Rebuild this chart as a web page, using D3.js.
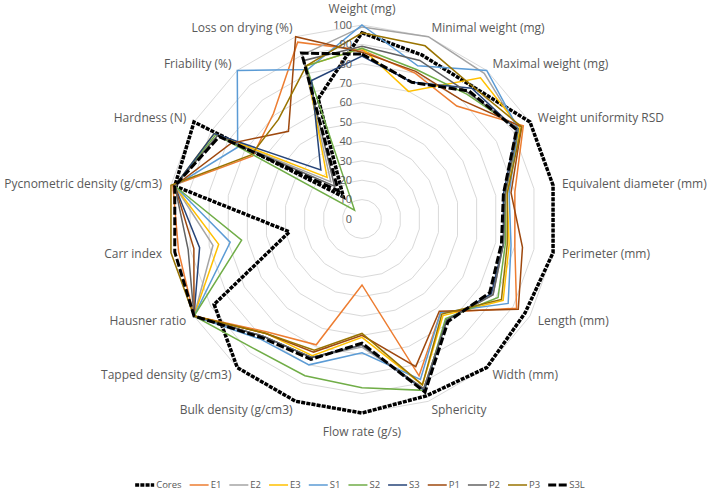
<!DOCTYPE html>
<html>
<head>
<meta charset="utf-8">
<script src="https://cdn.jsdelivr.net/npm/d3@7"></script>
<style>
  body { margin: 0; background: #fff; }
  text { font-family: "Open Sans", "Noto Sans", sans-serif; fill: #595959; }
</style>
</head>
<body>
<svg id="chart" width="708" height="492"></svg>
<script>
// axes, clockwise from the top
const axes = ["Weight (mg)", "Minimal weight (mg)", "Maximal weight (mg)", "Weight uniformity RSD",
  "Equivalent diameter (mm)", "Perimeter (mm)", "Length (mm)", "Width (mm)", "Sphericity",
  "Flow rate (g/s)", "Bulk density (g/cm3)", "Tapped density (g/cm3)", "Hausner ratio",
  "Carr index", "Pycnometric density (g/cm3)", "Hardness (N)", "Friability (%)", "Loss on drying (%)"];

const ticks = [0, 10, 20, 30, 40, 50, 60, 70, 80, 90, 100];

const seriesNames = ["Cores", "E1", "E2", "E3", "S1", "S2", "S3", "P1", "P2", "P3", "S3L"];
const seriesColors = ["#000000", "#ED7D31", "#A5A5A5", "#FFC000", "#5B9BD5", "#70AD47",
  "#264478", "#9E480E", "#636363", "#997300", "#000000"];

const cores = [96, 90, 89, 100, 100, 100, 97, 100, 97, 100, 100, 100, 88, 38, 98, 100, 15, 66];
const e1    = [87, 80, 76, 96, 80, 80, 92, 63, 86, 34, 69, 76, 100, 96, 99, 65, 71, 97];
const e2    = [99, 100, 98, 93, 75, 74, 78, 68, 93, 66, 76, 79, 100, 78, 98, 86, 25, 90];
const e3    = [88, 70, 95, 94, 76, 77, 84, 65, 91, 61, 75, 77, 100, 75, 98, 88, 28, 84];
const s1    = [100, 84, 100, 93, 77, 78, 87, 63, 88, 69, 80, 81, 100, 69, 98, 74, 100, 82];
const s2    = [88, 82, 84, 93, 75, 75, 81, 67, 94, 87, 86, 87, 100, 63, 98, 87, 6, 84];
const s3    = [84, 75, 88, 92, 74, 74, 77, 68, 94, 65, 76, 79, 100, 85, 98, 88, 33, 76];
const p1    = [86, 81, 80, 95, 78, 84, 93, 62, 81, 60, 73, 77, 100, 88, 98, 78, 59, 100];
const p2    = [89, 87, 85, 93, 75, 74, 78, 68, 93, 65, 76, 79, 100, 91, 98, 86, 22, 87];
const p3    = [96, 95, 89, 95, 76, 76, 83, 64, 91, 59, 72, 77, 100, 100, 100, 66, 67, 84];
const s3l   = [85, 75, 86, 92, 74, 73, 76, 69, 95, 64, 77, 80, 100, 98, 98, 85, 19, 91];

const seriesValues = [cores, e1, e2, e3, s1, s2, s3, p1, p2, p3, s3l];

const cx = 362, cy = 219, R = 194;
const svg = d3.select("#chart");

const angle = d3.scaleLinear().domain([0, axes.length]).range([0, 2 * Math.PI]);
const r = d3.scaleLinear().domain([0, 100]).range([0, R]);

const g = svg.append("g").attr("transform", "translate(" + cx + "," + cy + ")");

const radar = d3.lineRadial()
  .angle((d, i) => angle(i))
  .radius(d => r(d))
  .curve(d3.curveLinearClosed);

// grid rings
g.selectAll(".ring")
  .data(ticks.slice(1))
  .enter()
  .append("path")
  .attr("class", "ring")
  .attr("d", t => radar(axes.map(() => t)))
  .attr("fill", "none")
  .attr("stroke", "#D9D9D9")
  .attr("stroke-width", 1);

// series
seriesValues.forEach((vals, k) => {
  const name = seriesNames[k];
  const path = g.append("path")
    .attr("d", radar(vals))
    .attr("fill", "none")
    .attr("stroke", seriesColors[k])
    .attr("stroke-linejoin", "miter");
  if (name === "Cores") {
    path.attr("stroke-width", 3.5).attr("stroke-dasharray", "4,1.2");
  } else if (name === "S3L") {
    path.attr("stroke-width", 3).attr("stroke-dasharray", "8,2.5");
  } else {
    path.attr("stroke-width", 1.5);
  }
});

// tick labels on the vertical axis
g.selectAll(".tick")
  .data(ticks)
  .enter()
  .append("text")
  .attr("x", -10)
  .attr("y", t => -r(t))
  .attr("dy", "0.35em")
  .attr("text-anchor", "end")
  .style("font-size", "11px")
  .text(t => t);

// category labels
axes.forEach((name, i) => {
  const a = angle(i);
  const deg = Math.round(a * 180 / Math.PI);
  let rr = R + 9, anchor;
  if (deg === 0) { rr = R + 16; anchor = "middle"; }
  else if (deg === 180) { rr = R + 19; anchor = "middle"; }
  else anchor = deg < 180 ? "start" : "end";
  g.append("text")
    .attr("x", rr * Math.sin(a))
    .attr("y", -rr * Math.cos(a))
    .attr("dy", "0.35em")
    .attr("text-anchor", anchor)
    .style("font-size", "12px")
    .text(name);
});

// legend
const legend = svg.append("g");
let lx = 0;
seriesNames.forEach((name, k) => {
  const item = legend.append("g").attr("transform", "translate(" + lx + ",0)");
  const ln = item.append("line")
    .attr("x1", 0).attr("x2", 19)
    .attr("stroke", seriesColors[k]);
  if (name === "Cores") ln.attr("stroke-width", 3.5).attr("stroke-dasharray", "4,1.2");
  else if (name === "S3L") ln.attr("stroke-width", 3).attr("stroke-dasharray", "8,2.5");
  else ln.attr("stroke-width", 1.5);
  const t = item.append("text")
    .attr("x", 21)
    .attr("dy", "0.35em")
    .style("font-size", "9.5px")
    .text(name);
  lx += 21 + t.node().getComputedTextLength() + 8;
});
legend.attr("transform", "translate(" + (360 - (lx - 8) / 2) + ",485)");
</script>
</body>
</html>
